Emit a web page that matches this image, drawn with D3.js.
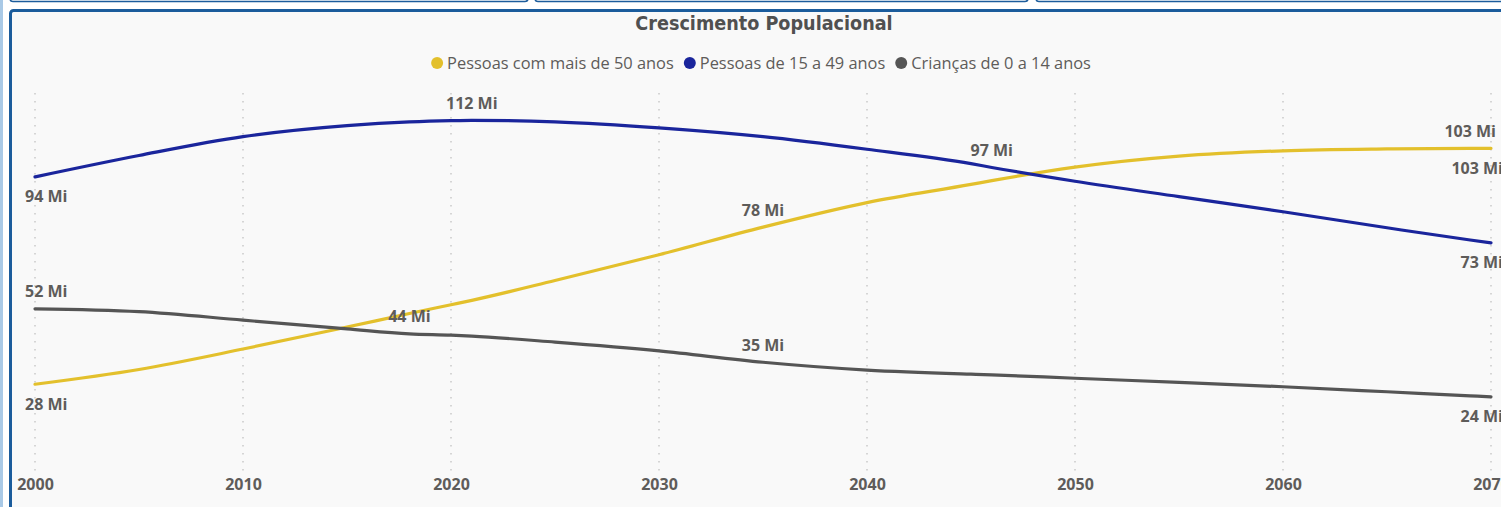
<!DOCTYPE html>
<html>
<head>
<meta charset="utf-8">
<script src="https://cdn.jsdelivr.net/npm/d3@7"></script>
<style>
  html, body { margin: 0; padding: 0; background: #ffffff; }
  svg { display: block; }
</style>
</head>
<body>
<svg id="chart" width="1501" height="507"></svg>
<script>
// Population by age group (millions)
const years = [2000, 2005, 2010, 2015, 2018, 2020, 2021, 2025, 2030, 2035, 2040, 2045, 2046, 2050, 2055, 2060, 2065, 2069, 2070];
const over50    = [28, 32.7, 39.2, 46.2, 50.5, 53.3, 54.7, 61.0, 69.2, 78, 85.8, 91.6, 92.8, 97.1, 100.6, 102.3, 102.9, 103.1, 103.1];
const age15to49 = [94, 100.8, 106.8, 110.3, 111.5, 111.9, 112, 111.5, 109.6, 106.8, 102.8, 98.2, 97, 92.6, 87.7, 82.9, 77.8, 73.9, 73];
const age0to14  = [52, 51.1, 48.4, 45.6, 44, 43.6, 43.3, 41.4, 38.6, 35, 32.5, 31.2, 31.0, 29.9, 28.6, 27.2, 25.6, 24.3, 24];

const seriesNames = ["Pessoas com mais de 50 anos", "Pessoas de 15 a 49 anos", "Crianças de 0 a 14 anos"];
const seriesColors = ["#E3C02C", "#1A259C", "#555555"];
const xTicks = [2000, 2010, 2020, 2030, 2040, 2050, 2060, 2070];

// Which points carry a data label, and on which side of the line
const labelSeries = [1, 1, 1, 1, 0, 0, 0, 0, 2, 2, 2, 2];
const labelYears  = [2000, 2021, 2046, 2070, 2000, 2035, 2069, 2070, 2000, 2018, 2035, 2070];
const labelSide   = ["below", "above", "above", "below", "below", "above", "above", "below", "above", "above", "above", "below"];

const seriesValues = [over50, age15to49, age0to14];

const svg = d3.select("#chart");
const W = 1501, H = 507;

// surrounding report chrome
svg.append("rect").attr("x", 0).attr("y", 0).attr("width", 3).attr("height", H).attr("fill", "#A9C9E6");
[[10, 528], [535, 1028], [1036, 1520]].forEach(([a, b]) => {
  svg.append("rect").attr("x", a).attr("y", -20).attr("width", b - a).attr("height", 21.5)
    .attr("rx", 3).attr("fill", "#ffffff").attr("stroke", "#1B5C9C").attr("stroke-width", 1.6);
});
svg.append("rect").attr("x", 10.5).attr("y", 10.5).attr("width", 1560).attr("height", 560)
  .attr("rx", 3).attr("fill", "#F9F9F9").attr("stroke", "#1B5C9C").attr("stroke-width", 3);

const x = d3.scaleLinear().domain([2000, 2070]).range([35, 1491]);
const y = d3.scaleLinear().domain([0, 120]).range([472.2, 95.2]);

// vertical dotted gridlines
svg.append("g").selectAll("line").data(xTicks).join("line")
  .attr("x1", d => x(d)).attr("x2", d => x(d))
  .attr("y1", 93).attr("y2", 472)
  .attr("stroke", "#CCCCCC").attr("stroke-width", 1.6)
  .attr("stroke-dasharray", "1.6,6.4");

// x axis labels
const xAxis = d3.axisBottom(x).tickValues(xTicks).tickFormat(d3.format("d")).tickSize(0).tickPadding(0);
const gx = svg.append("g").attr("transform", "translate(0,476)").call(xAxis);
gx.select(".domain").remove();
gx.selectAll("text")
  .attr("font-family", "'Open Sans', sans-serif").attr("font-size", 16).attr("font-weight", 700)
  .attr("fill", "#5E5C5A").attr("dy", "0.9em");

// title
svg.append("text").attr("x", 764).attr("y", 30).attr("text-anchor", "middle")
  .attr("font-family", "'DejaVu Sans Condensed', 'DejaVu Sans', sans-serif")
  .attr("font-weight", 700).attr("font-size", 19.6).attr("fill", "#505050")
  .text("Crescimento Populacional");

// legend
const legend = svg.append("g");
let lx = 0;
seriesNames.forEach((name, i) => {
  const g = legend.append("g");
  g.append("circle").attr("cx", 6).attr("cy", 0).attr("r", 6).attr("fill", seriesColors[i]);
  const t = g.append("text").attr("x", 16).attr("y", 0).attr("dy", "0.35em")
    .attr("font-family", "'Open Sans', sans-serif").attr("font-size", 16.4)
    .attr("fill", "#5E5C5A").text(name);
  const w = 16 + t.node().getComputedTextLength();
  g.attr("transform", `translate(${lx},0)`);
  lx += w + 10;
});
const legendW = lx - 10;
legend.attr("transform", `translate(${761 - legendW / 2},63)`);

// lines
const line = d3.line()
  .x((d, i) => x(years[i]))
  .y(d => y(d))
  .curve(d3.curveMonotoneX);

seriesValues.forEach((vals, i) => {
  svg.append("path").datum(vals)
    .attr("d", line)
    .attr("fill", "none")
    .attr("stroke", seriesColors[i])
    .attr("stroke-width", 3.2)
    .attr("stroke-linecap", "round");
});

// data labels
const fmt = v => `${Math.round(v)} Mi`;
const labelsG = svg.append("g");
labelYears.forEach((yr, k) => {
  const s = labelSeries[k];
  const idx = years.indexOf(yr);
  const v = seriesValues[s][idx];
  const px = x(yr), py = y(v);
  const t = labelsG.append("text")
    .attr("font-family", "'Open Sans', sans-serif").attr("font-size", 16).attr("font-weight", 700)
    .attr("fill", "#5E5C5A").attr("text-anchor", "middle")
    .attr("y", labelSide[k] === "above" ? py - 11.5 : py + 25.5)
    .text(fmt(v));
  const w = t.node().getComputedTextLength();
  const cx = Math.max(25 + w / 2, Math.min(1503 - w / 2, px));
  t.attr("x", cx);
});
</script>
</body>
</html>
